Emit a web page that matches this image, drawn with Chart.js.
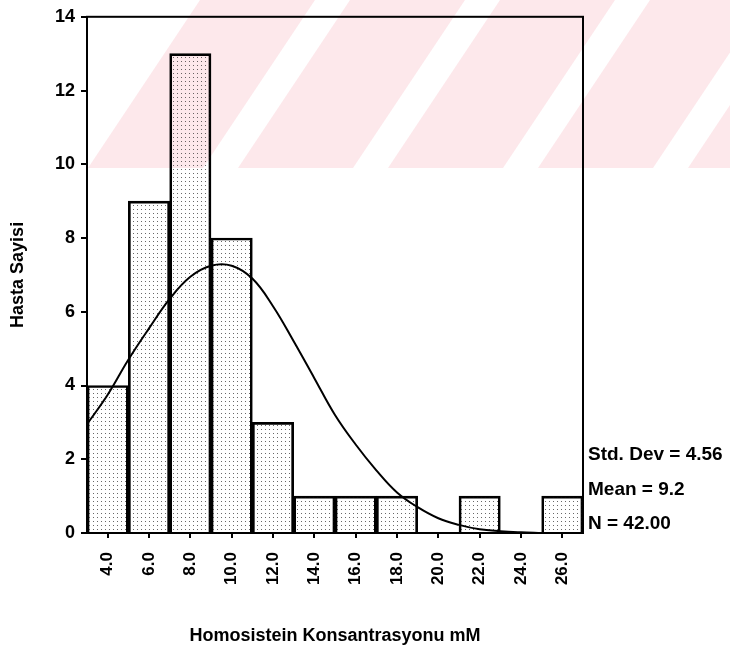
<!DOCTYPE html>
<html>
<head>
<meta charset="utf-8">
<script src="https://cdn.jsdelivr.net/npm/chart.js@4/dist/chart.umd.min.js"></script>
<style>
  html, body { margin: 0; padding: 0; background: #fff; }
  #wrap { width: 730px; height: 652px; }
</style>
</head>
<body>
<div id="wrap"><canvas id="histChart" width="730" height="652"></canvas></div>
<script>
// bins (centre labels) and patient counts
const binLabels = ['4.0', '6.0', '8.0', '10.0', '12.0', '14.0', '16.0', '18.0', '20.0', '22.0', '24.0', '26.0'];
const counts = [4, 9, 13, 8, 3, 1, 1, 1, 0, 1, 0, 1];

// normal curve
const curveX = [3, 4, 5, 6, 7, 8, 9, 10, 11, 12, 13, 14, 15, 16, 17, 18, 19, 20, 21, 22, 23, 24, 25];
const curveY = [2.95, 3.75, 4.7, 5.55, 6.35, 6.95, 7.25, 7.25, 6.9, 6.15, 5.2, 4.2, 3.2, 2.4, 1.7, 1.1, 0.7, 0.4, 0.22, 0.1, 0.05, 0.02, 0.0];

const statLines = ['Std. Dev = 4.56', 'Mean = 9.2', 'N = 42.00'];

const FONT = "'Liberation Sans', Arial, sans-serif";

// dotted fill like the old SPSS print
function dotPattern() {
  const tile = document.createElement('canvas');
  tile.width = 4;
  tile.height = 4;
  const c = tile.getContext('2d');
  c.fillStyle = 'rgba(40,40,40,0.7)';
  c.fillRect(1, 1, 1, 1);
  return c.createPattern(tile, 'repeat');
}

const watermark = {
  id: 'watermark',
  beforeDraw(chart) {
    const ctx = chart.ctx;
    const h = 168;
    ctx.save();
    ctx.beginPath();
    ctx.rect(0, 0, chart.width, h);
    ctx.clip();
    ctx.fillStyle = '#fde8eb';
    // slanted pink bands, left edge from (88,168) to (200,0)
    const slope = 112 / 168;
    for (let x0 = 88; x0 < 900; x0 += 150) {
      ctx.beginPath();
      ctx.moveTo(x0, h);
      ctx.lineTo(x0 + h * slope, 0);
      ctx.lineTo(x0 + h * slope + 115, 0);
      ctx.lineTo(x0 + 115, h);
      ctx.closePath();
      ctx.fill();
    }
    ctx.restore();
  }
};

const frame = {
  id: 'frame',
  afterDatasetsDraw(chart) {
    const { ctx, chartArea: a } = chart;
    ctx.save();
    ctx.strokeStyle = '#000';
    ctx.lineWidth = 2;
    ctx.strokeRect(a.left, a.top, a.right - a.left, a.bottom - a.top);
    ctx.restore();
  },
  afterDraw(chart) {
    const ctx = chart.ctx;
    ctx.save();
    ctx.fillStyle = '#000';
    ctx.font = 'bold 19px ' + FONT;
    ctx.textAlign = 'left';
    ctx.textBaseline = 'alphabetic';
    const base = [460, 495, 529];
    statLines.forEach((s, i) => ctx.fillText(s, 588, base[i]));
    ctx.restore();
  }
};

new Chart(document.getElementById('histChart'), {
  type: 'bar',
  data: {
    labels: binLabels,
    datasets: [
      {
        type: 'line',
        label: 'Normal',
        data: curveX.map((x, i) => ({ x: x, y: curveY[i] })),
        xAxisID: 'xLine',
        borderColor: '#000',
        borderWidth: 2,
        pointRadius: 0,
        tension: 0.4,
        fill: false,
        order: 0
      },
      {
        label: 'Hasta Sayisi',
        data: counts,
        xAxisID: 'x',
        backgroundColor: dotPattern(),
        borderColor: '#000',
        borderWidth: 2,
        barPercentage: 1,
        categoryPercentage: 1,
        grouped: false,
        order: 1
      }
    ]
  },
  options: {
    responsive: false,
    animation: false,
    devicePixelRatio: 1,
    layout: { padding: { top: 15, right: 147, left: 0, bottom: 0 } },
    plugins: {
      legend: { display: false },
      tooltip: { enabled: false }
    },
    scales: {
      x: {
        type: 'category',
        offset: true,
        afterFit(scale) { scale.height = 119; },
        grid: { drawOnChartArea: false, drawTicks: true, tickLength: 5, color: '#000', lineWidth: 2, offset: false },
        border: { color: '#000', width: 2 },
        ticks: {
          color: '#000',
          font: { family: FONT, size: 17, weight: 'bold' },
          minRotation: 90,
          maxRotation: 90,
          padding: 14
        },
        title: {
          display: true,
          text: 'Homosistein Konsantrasyonu mM',
          color: '#000',
          font: { family: FONT, size: 18, weight: 'bold' },
          padding: { top: 0, bottom: 5 }
        }
      },
      xLine: {
        type: 'linear',
        display: false,
        offset: false,
        grid: { offset: false },
        min: 3,
        max: 27
      },
      y: {
        min: 0,
        max: 14,
        afterFit(scale) { scale.width = 87; },
        grid: { drawOnChartArea: false, drawTicks: true, tickLength: 6, color: '#000', lineWidth: 2 },
        border: { color: '#000', width: 2 },
        ticks: {
          stepSize: 2,
          color: '#000',
          font: { family: FONT, size: 18, weight: 'bold' },
          padding: 6
        },
        title: {
          display: true,
          text: 'Hasta Sayisi',
          color: '#000',
          font: { family: FONT, size: 18, weight: 'bold' },
          padding: { top: 7, bottom: 0 }
        }
      }
    }
  },
  plugins: [watermark, frame]
});
</script>
</body>
</html>
